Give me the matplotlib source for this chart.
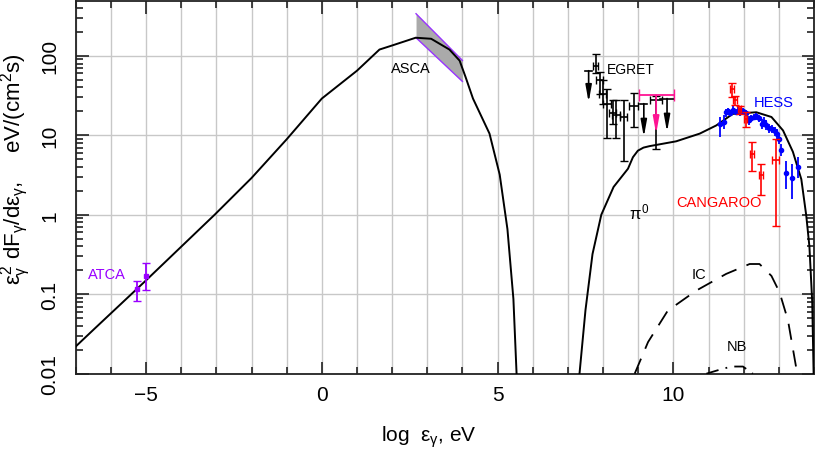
import numpy as np
import matplotlib
matplotlib.use("Agg")
import matplotlib.pyplot as plt
from matplotlib.ticker import MultipleLocator, LogLocator

plt.rcParams['font.family'] = ['Liberation Sans', 'DejaVu Sans']
plt.rcParams['mathtext.fontset'] = 'custom'
plt.rcParams['mathtext.rm'] = 'Liberation Sans'
plt.rcParams['mathtext.it'] = 'Liberation Sans'
plt.rcParams['mathtext.bf'] = 'Liberation Sans:bold'
plt.rcParams['mathtext.fallback'] = 'stixsans'

# ---------------- data ----------------
# synchrotron model curve (log eps, flux)
sync_x = [-7.0, -6.46, -5.01, -3.05, -2.0, -1.0, 0.0, 1.0, 1.64, 2.0, 2.67, 3.11, 3.63,
          3.92, 4.09, 4.30, 4.77, 5.06, 5.28, 5.45, 5.54]
sync_y = [0.022, 0.037, 0.148, 1.0, 2.9, 8.9, 29.0, 65.0, 120.0, 135.0, 169.0, 164.0, 120.0,
          87.0, 54.0, 29.0, 10.5, 3.2, 0.66, 0.087, 0.01]

# pi0 decay curve
pion_x = [7.33, 7.5, 7.7, 7.95, 8.3, 8.71, 8.85, 8.99, 9.15, 9.32, 10.08, 10.75, 11.22, 11.69,
          12.36, 12.79, 13.12, 13.40, 13.64, 13.78, 13.87, 13.95, 13.99]
pion_y = [0.01, 0.063, 0.32, 1.0, 2.24, 3.8, 5.3, 6.4, 7.0, 7.3, 8.4, 10.5, 13.3, 18.6,
          19.5, 17.0, 11.5, 6.2, 2.8, 0.98, 0.4, 0.08, 0.01]

# inverse Compton curve
ic_x = [8.9, 9.28, 9.84, 10.65, 11.5, 12.17, 12.45, 12.79, 13.02, 13.26, 13.5]
ic_y = [0.01, 0.025, 0.062, 0.111, 0.18, 0.24, 0.24, 0.17, 0.106, 0.047, 0.0115]

# non-thermal bremsstrahlung curve
nb_x = [10.94, 11.31, 11.65, 11.98, 12.26]
nb_y = [0.01, 0.0112, 0.0123, 0.0123, 0.01]

# ATCA
atca_x = [-5.25, -5.01]
atca_y = [0.117, 0.169]
atca_lo = [0.081, 0.114]
atca_hi = [0.148, 0.248]

# ASCA bow-tie
asca_x = [2.68, 4.0]
asca_hi = [339.0, 87.5]
asca_lo = [169.0, 47.6]

# EGRET points
egret_x = [7.79, 7.90, 7.99, 8.12, 8.28, 8.37, 8.59, 8.87, 9.51]
egret_xerr = [0.07, 0.1, 0.1, 0.12, 0.1, 0.12, 0.1, 0.12, 0.17]
egret_y = [75.0, 49.0, 33.0, 25.0, 19.0, 18.0, 17.0, 23.7, 28.0]
egret_lo = [60.0, 33.0, 25.0, 9.2, 14.0, 9.3, 4.7, 12.6, 6.8]
egret_hi = [106.0, 63.0, 49.0, 38.5, 28.0, 28.0, 28.0, 34.0, 31.0]

# EGRET upper limits
egul_x = [7.59, 9.16, 9.82]
egul_y = [65.0, 25.0, 29.0]
egul_to = [26.0, 9.5, 11.0]
egul_xerr = [0.1, 0.1, 0.2]

# magenta upper limit
mag_x = [9.51]
mag_y = [32.0]
mag_xlo = [9.01]
mag_xhi = [10.01]
mag_to = [10.4]

# HESS
hess_x = [11.334, 11.428, 11.485, 11.551, 11.618, 11.694, 11.770, 11.836, 11.902, 11.978,
          12.054, 12.149, 12.215, 12.291, 12.358, 12.433, 12.509, 12.576, 12.642, 12.718,
          12.813, 12.879, 12.946, 13.002, 13.069, 13.192, 13.372, 13.543]
hess_y = [14.0, 14.9, 19.6, 20.2, 19.0, 21.1, 19.6, 20.5, 19.6, 20.2,
          19.0, 15.4, 16.5, 16.9, 17.4, 16.5, 14.0, 14.9, 13.3, 12.3,
          12.1, 11.2, 10.4, 9.0, 6.6, 3.37, 2.89, 3.97]
hess_lo = [9.5, 12.1, 16.9, 18.1, 17.4, 18.7, 17.8, 18.7, 17.4, 18.3,
           17.3, 13.6, 14.9, 15.4, 15.8, 14.9, 12.1, 13.0, 11.5, 10.8,
           10.8, 9.8, 9.0, 7.8, 5.5, 2.1, 1.6, 2.89]
hess_hi = [16.9, 17.8, 21.6, 22.0, 20.9, 23.8, 21.6, 22.7, 22.0, 22.0,
           20.9, 17.4, 18.1, 18.7, 19.2, 18.1, 16.1, 16.9, 15.4, 13.96,
           13.6, 12.7, 12.1, 10.4, 7.8, 4.8, 4.4, 5.3]

# CANGAROO
cang_x = [11.665, 11.76, 11.883, 12.054, 12.234, 12.50, 12.908]
cang_y = [38.5, 27.5, 21.6, 16.1, 5.85, 3.12, 4.9]
cang_lo = [30.3, 23.8, 18.7, 12.7, 3.6, 1.75, 0.73]
cang_hi = [45.8, 31.1, 23.3, 19.6, 8.2, 4.4, 9.0]
cang_xerr = [0.05, 0.05, 0.05, 0.05, 0.05, 0.05, 0.11]

# axis ticks
xticks = [-5, 0, 5, 10]
xticklabels = ['\u22125', '0', '5', '10']
yticks = [0.01, 0.1, 1, 10, 100]
yticklabels = ['0.01', '0.1', '1', '10', '100']

# ---------------- figure ----------------
fig = plt.figure(figsize=(8.17, 4.64), dpi=100)
ax = fig.add_axes([0.0927, 0.1925, 0.9036, 0.8032])
ax.set_xlim(-7, 14)
ax.set_ylim(0.01, 490)
ax.set_yscale('log')

ax.xaxis.set_minor_locator(MultipleLocator(1))
ax.set_xticks(xticks)
ax.set_xticklabels(xticklabels)
ax.set_yticks(yticks)
ax.set_yticklabels(yticklabels, rotation=90, va='center')
ax.yaxis.set_minor_locator(LogLocator(base=10, subs=np.arange(2, 10), numticks=20))
ax.yaxis.set_minor_formatter(plt.NullFormatter())
ax.grid(True, which='major', axis='y', color='#c8c8c8', lw=1.0, zorder=0)
ax.grid(True, which='both', axis='x', color='#c8c8c8', lw=1.0, zorder=0)
ax.set_axisbelow(True)

ax.tick_params(which='both', direction='in', top=True, right=True, width=1.2, colors='#222222')
ax.tick_params(which='major', length=9, labelsize=15, labelcolor='black')
ax.tick_params(which='minor', length=5)
ax.tick_params(axis='x', which='major', pad=8)
ax.tick_params(axis='y', which='major', pad=12)
for s in ax.spines.values():
    s.set_linewidth(1.3)
    s.set_color('#222222')

# ASCA bowtie
ax.fill_between(asca_x, asca_lo, asca_hi, color='#aaaaaa', zorder=2, lw=0)
ax.plot(asca_x, asca_hi, color='#9933ff', lw=1.0, zorder=3)
ax.plot(asca_x, asca_lo, color='#9933ff', lw=1.0, zorder=3)

# model curves
ax.plot(sync_x, sync_y, color='black', lw=1.4, zorder=4)
ax.plot(pion_x, pion_y, color='black', lw=1.4, zorder=4)
ax.plot(ic_x, ic_y, color='black', lw=1.3, ls=(0, (9, 6)), zorder=4)
ax.plot(nb_x, nb_y, color='black', lw=1.3, ls=(0, (7, 4, 1, 4)), zorder=4)

# ATCA
ay = np.array(atca_y)
ax.errorbar(atca_x, atca_y, yerr=[ay - np.array(atca_lo), np.array(atca_hi) - ay],
            fmt='s', ms=3, color='#9900ff', ecolor='#9900ff', elinewidth=1.3, capsize=3, zorder=5)

# EGRET
ey = np.array(egret_y)
ax.errorbar(egret_x, egret_y, xerr=egret_xerr,
            yerr=[ey - np.array(egret_lo), np.array(egret_hi) - ey],
            fmt='none', ecolor='black', elinewidth=1.2, capsize=3, zorder=5)
arrow_kw = dict(arrowstyle='-|>,head_width=0.18,head_length=1.0', shrinkA=0, shrinkB=0)
for x, y, t, xe in zip(egul_x, egul_y, egul_to, egul_xerr):
    ax.plot([x - xe, x + xe], [y, y], color='black', lw=1.2, zorder=5)
    ax.annotate('', xy=(x, t), xytext=(x, y),
                arrowprops=dict(color='black', lw=1.2, **arrow_kw), zorder=5)
for x, y, x0, x1, t in zip(mag_x, mag_y, mag_xlo, mag_xhi, mag_to):
    ax.errorbar([x], [y], xerr=[[x - x0], [x1 - x]], fmt='none', ecolor='#ff1493',
                elinewidth=1.3, capsize=4, zorder=6)
    ax.annotate('', xy=(x, t), xytext=(x, y),
                arrowprops=dict(color='#ff1493', lw=1.3, **arrow_kw), zorder=6)

# HESS
hy = np.array(hess_y)
ax.errorbar(hess_x, hess_y, yerr=[hy - np.array(hess_lo), np.array(hess_hi) - hy],
            fmt='o', ms=3, color='#0000ff', ecolor='#0000ff', elinewidth=1.3, capsize=0, zorder=6)

# CANGAROO
cy = np.array(cang_y)
ax.errorbar(cang_x, cang_y, xerr=cang_xerr, yerr=[cy - np.array(cang_lo), np.array(cang_hi) - cy],
            fmt='none', ecolor='#ff0000', elinewidth=1.2, capsize=3, zorder=7)

# labels
ax.text(-6.1, 0.18, 'ATCA', color='#9900ff', fontsize=10.5, ha='center', va='center')
ax.text(2.54, 70, 'ASCA', color='black', fontsize=10.5, ha='center', va='center')
ax.text(8.8, 68, 'EGRET', color='black', fontsize=10, ha='center', va='center')
ax.text(12.85, 26, 'HESS', color='#0000ff', fontsize=10.5, ha='center', va='center')
ax.text(11.3, 1.45, 'CANGAROO', color='#ff0000', fontsize=10.5, ha='center', va='center')
ax.text(9.04, 1.1, r'$\pi^0$', color='black', fontsize=12, ha='center', va='center')
ax.text(10.74, 0.18, 'IC', color='black', fontsize=10.5, ha='center', va='center')
ax.text(11.82, 0.0225, 'NB', color='black', fontsize=10.5, ha='center', va='center')

ax.set_xlabel(r'log  $\epsilon_\gamma$, eV', fontsize=15)
ax.xaxis.set_label_coords(0.4785, -0.135)
ax.set_ylabel(r'$\epsilon^2_\gamma\ \mathrm{dF}_\gamma/\mathrm{d}\epsilon_\gamma,\quad\ \mathrm{eV/(cm^2s)}$',
              fontsize=16)
ax.yaxis.set_label_coords(-0.058, 0.55)

fig.savefig('out.png', dpi=100)
